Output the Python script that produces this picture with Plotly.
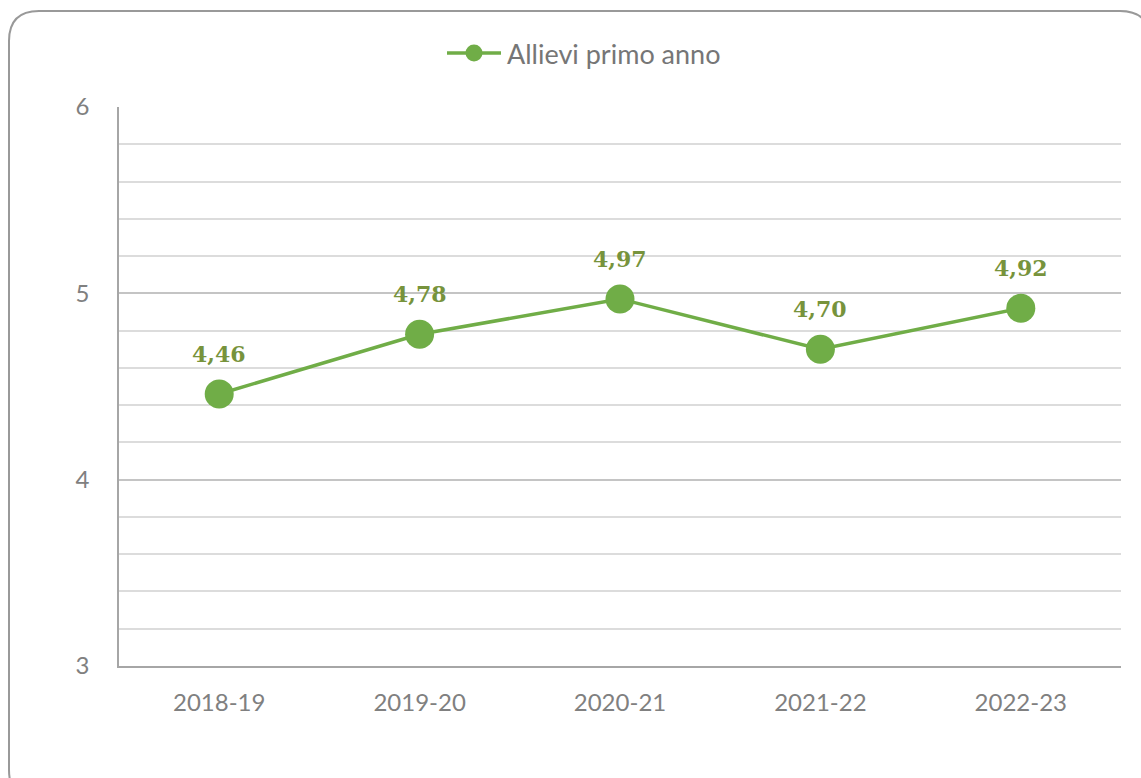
import plotly.graph_objects as go

# Data
years = ["2018-19", "2019-20", "2020-21", "2021-22", "2022-23"]
allievi_primo_anno = [4.46, 4.78, 4.97, 4.70, 4.92]
series_name = "Allievi primo anno"

W, H = 1141, 778
L, R, T, B = 119, 20, 107, 112
PW, PH = W - L - R, H - T - B


def px(x):
    return (x - L) / PW


def py(y):
    return (H - B - y) / PH


line_color = "#70AD47"
label_color = "#77933C"
tick_color = "#808080"

fig = go.Figure()
fig.add_trace(go.Scatter(
    x=years,
    y=allievi_primo_anno,
    mode="lines+markers",
    name=series_name,
    line=dict(color=line_color, width=3.5),
    marker=dict(color=line_color, size=29),
    showlegend=False,
))

# value labels above each point
for yr, v in zip(years, allievi_primo_anno):
    fig.add_annotation(
        x=yr, y=v, xref="x", yref="y",
        text=f"{v:.2f}".replace(".", ","),
        showarrow=False, yshift=40,
        font=dict(family="DejaVu Serif", size=22, color=label_color, weight="bold"),
    )

# legend key: line with a dot, followed by the series name
leg_y = py(53)
fig.add_shape(type="line", xref="paper", yref="paper",
              x0=px(447), x1=px(501), y0=leg_y, y1=leg_y,
              line=dict(color=line_color, width=3.5))
fig.add_shape(type="circle", xref="paper", yref="paper",
              x0=px(474 - 8.5), x1=px(474 + 8.5), y0=py(53 + 8.5), y1=py(53 - 8.5),
              fillcolor=line_color, line=dict(color=line_color, width=0))
fig.add_annotation(
    x=px(505), y=leg_y, xref="paper", yref="paper",
    xanchor="left", yanchor="middle", showarrow=False,
    text=series_name,
    font=dict(family="Lato", size=27, color="#767676"),
)

# rounded frame around the chart
x0, y0, x1, y1, r = 9, 11, 1150, 800, 30
path = (
    f"M {px(x0)},{py(y0 + r)} "
    f"Q {px(x0)},{py(y0)} {px(x0 + r)},{py(y0)} "
    f"L {px(x1 - r)},{py(y0)} "
    f"Q {px(x1)},{py(y0)} {px(x1)},{py(y0 + r)} "
    f"L {px(x1)},{py(y1 - r)} "
    f"Q {px(x1)},{py(y1)} {px(x1 - r)},{py(y1)} "
    f"L {px(x0 + r)},{py(y1)} "
    f"Q {px(x0)},{py(y1)} {px(x0)},{py(y1 - r)} Z"
)
fig.add_shape(type="path", path=path, xref="paper", yref="paper",
              line=dict(color="#999999", width=2), layer="below")

fig.update_layout(
    width=W, height=H,
    margin=dict(l=L, r=R, t=T, b=B),
    plot_bgcolor="white", paper_bgcolor="white",
    font=dict(family="Lato", color=tick_color),
    showlegend=False,
    xaxis=dict(
        range=[-0.5, 4.5],
        showgrid=False,
        showline=True, linecolor="#a6a6a6", linewidth=1.5,
        ticks="", tickfont=dict(size=24, color=tick_color),
        ticklabelstandoff=14,
        fixedrange=True,
    ),
    yaxis=dict(
        range=[3, 6], dtick=1, tick0=3,
        showgrid=True, gridcolor="#c4c4c4", gridwidth=1.5,
        showline=True, linecolor="#a6a6a6", linewidth=1.5,
        zeroline=False,
        ticks="", tickfont=dict(size=24, color=tick_color),
        ticklabelstandoff=23,
        minor=dict(dtick=0.2, tick0=3, showgrid=True, gridcolor="#dcdcdc", gridwidth=1.5),
        fixedrange=True,
    ),
)

fig.write_html("out.html")
